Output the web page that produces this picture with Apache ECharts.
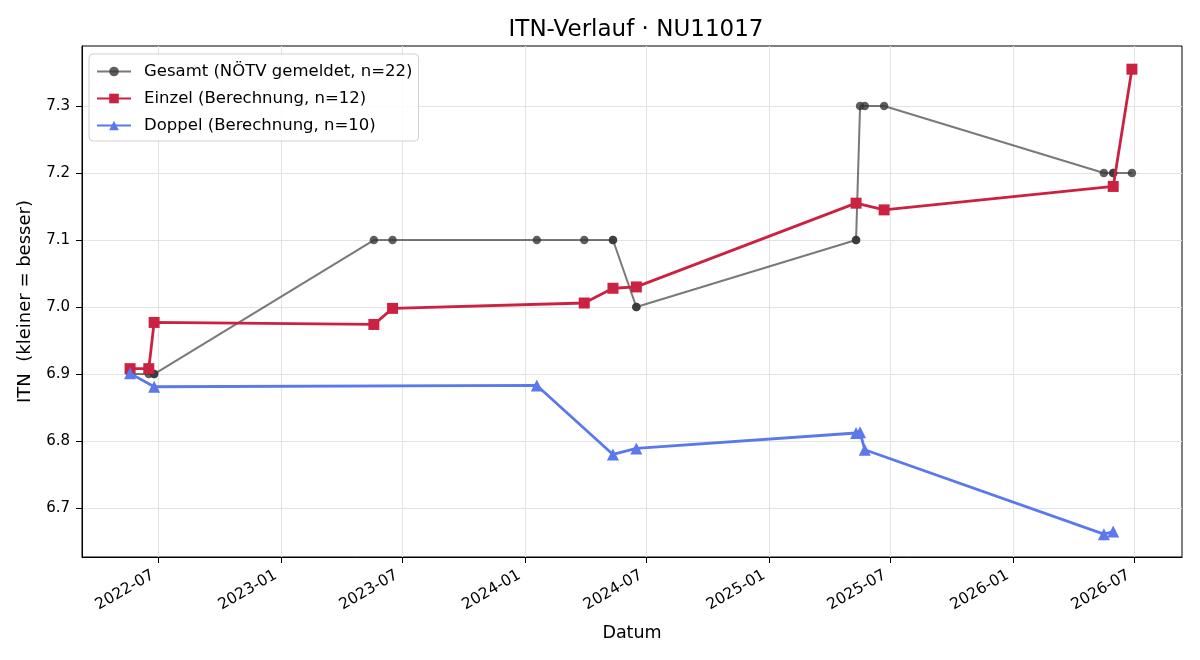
<!DOCTYPE html>
<html>
<head>
<meta charset="utf-8">
<script src="https://cdn.jsdelivr.net/npm/echarts@6/dist/echarts.min.js"></script>
<style>html,body{margin:0;padding:0;background:#fff;}#c{width:1200px;height:660px;}</style>
</head>
<body>
<div id="c"></div>
<script>
const gesamtDates = ['2022-05-20','2022-05-20','2022-06-17','2022-06-25','2022-06-25','2023-05-20','2023-06-17','2024-01-19','2024-03-30','2024-05-12','2024-05-12','2024-06-16','2024-06-16','2025-05-11','2025-05-11','2025-05-17','2025-05-24','2025-06-22','2026-05-17','2026-05-31','2026-05-31','2026-06-28'];
const gesamtValues = [6.9,6.9,6.9,6.9,6.9,7.1,7.1,7.1,7.1,7.1,7.1,7.0,7.0,7.1,7.1,7.3,7.3,7.3,7.2,7.2,7.2,7.2];
const einzelDates = ['2022-05-20','2022-06-17','2022-06-25','2023-05-20','2023-06-17','2024-03-30','2024-05-12','2024-06-16','2025-05-11','2025-06-22','2026-05-31','2026-06-28'];
const einzelValues = [6.908,6.908,6.977,6.974,6.998,7.006,7.028,7.030,7.155,7.145,7.180,7.355];
const doppelDates = ['2022-05-20','2022-06-25','2024-01-19','2024-05-12','2024-06-16','2025-05-11','2025-05-17','2025-05-24','2026-05-17','2026-05-31'];
const doppelValues = [6.901,6.881,6.883,6.780,6.789,6.812,6.813,6.787,6.661,6.665];
const xTickLabels = ['2022-07','2023-01','2023-07','2024-01','2024-07','2025-01','2025-07','2026-01','2026-07'];
const yTickValues = [6.7,6.8,6.9,7.0,7.1,7.2,7.3];
const seriesNames = ['Gesamt (NÖTV gemeldet, n=22)','Einzel (Berechnung, n=12)','Doppel (Berechnung, n=10)'];

function ts(s){ const p=s.split('-').map(Number); return new Date(p[0], p[1]-1, p[2]||1).getTime(); }
const pairs = (d,v) => d.map((x,i)=>[ts(x), v[i]]);
const xTickValues = xTickLabels.map(ts);
const font = 'DejaVu Sans';

const chart = echarts.init(document.getElementById('c'), null, {renderer:'canvas'});
chart.setOption({
  animation:false,
  backgroundColor:'#fff',
  textStyle:{fontFamily:font},
  title:{text:'ITN-Verlauf · NU11017', left:631, top:14, textAlign:'center',
    textStyle:{fontFamily:font, fontSize:23, fontWeight:'normal', color:'#000'}},
  grid:{left:82, right:18, top:46, bottom:103, show:true, borderColor:'#000', borderWidth:1, containLabel:false},
  legend:{
    left:89, top:54, orient:'vertical', backgroundColor:'rgba(255,255,255,0.85)',
    borderColor:'#d0d0d0', borderWidth:1, borderRadius:4, padding:[9,6,7,7], itemGap:10,
    itemWidth:34, itemHeight:12,
    textStyle:{fontFamily:font, fontSize:16.5, color:'#000', padding:[0,0,0,8]},
    data:seriesNames
  },
  xAxis:{
    type:'value', min:ts('2022-03-09'), max:ts('2026-09-11'), scale:true,
    name:'Datum', nameLocation:'middle', nameGap:67,
    nameTextStyle:{fontFamily:font, fontSize:17.5, color:'#000'},
    axisLine:{show:true, onZero:false, lineStyle:{color:'#000', width:1}},
    axisTick:{show:true, length:6, inside:false, lineStyle:{color:'#000'}, customValues:xTickValues},
    axisLabel:{customValues:xTickValues, rotate:30, fontFamily:font, fontSize:15.5, color:'#000', margin:14,
      padding:[0,6,0,0],
      formatter:function(v){const d=new Date(v); return d.getFullYear()+'-'+String(d.getMonth()+1).padStart(2,'0');}},
    splitLine:{show:true, lineStyle:{color:'#e3e3e3', width:1}}
  },
  yAxis:{
    type:'value', min:6.6269, max:7.3896, scale:true,
    name:'ITN  (kleiner = besser)', nameLocation:'middle', nameGap:48, nameRotate:90,
    nameTextStyle:{fontFamily:font, fontSize:18, color:'#000'},
    axisLine:{show:true, onZero:false, lineStyle:{color:'#000', width:1}},
    axisTick:{show:true, length:6, lineStyle:{color:'#000'}, customValues:yTickValues},
    axisLabel:{customValues:yTickValues, fontFamily:font, fontSize:15, color:'#000', margin:12,
      formatter:function(v){return v.toFixed(1);}},
    splitLine:{show:true, lineStyle:{color:'#e3e3e3', width:1}}
  },
  series:[
    {name:seriesNames[0], type:'line', data:pairs(gesamtDates,gesamtValues), symbol:'circle', symbolSize:8.5,
      lineStyle:{color:'rgba(64,64,64,0.7)', width:2}, itemStyle:{color:'rgba(55,55,55,0.8)'}, z:2},
    {name:seriesNames[1], type:'line', data:pairs(einzelDates,einzelValues), symbol:'rect', symbolSize:11,
      lineStyle:{color:'#cb2241', width:2.8}, itemStyle:{color:'#cb2241'}, z:3},
    {name:seriesNames[2], type:'line', data:pairs(doppelDates,doppelValues), symbol:'triangle', symbolSize:12,
      lineStyle:{color:'#5b78ec', width:2.8}, itemStyle:{color:'#5b78ec'}, z:4}
  ]
});
</script>
</body>
</html>
